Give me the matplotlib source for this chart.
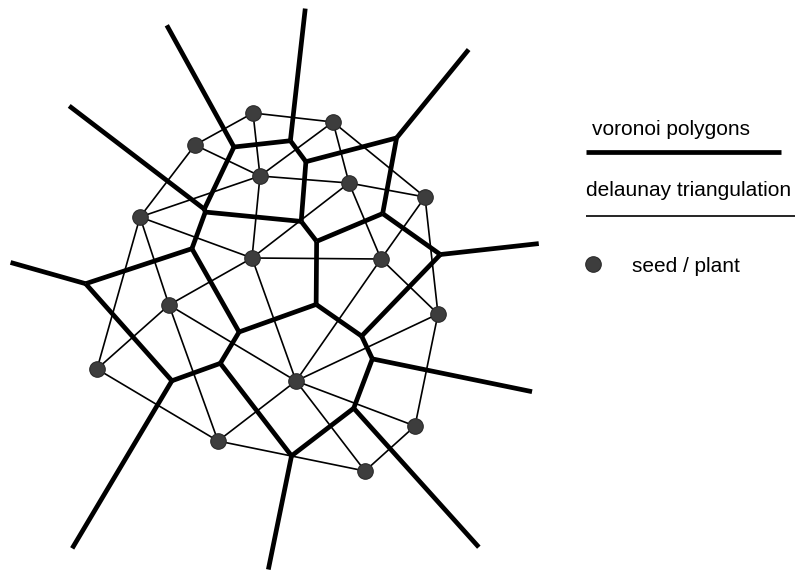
import numpy as np
import matplotlib.pyplot as plt
import matplotlib.tri as mtri


# -----------------------------
# Seeds (pixel coords, y down) and Delaunay triangles
# -----------------------------

seed_x = [253, 333, 195, 260, 349, 425, 140, 252, 381, 169, 438, 97, 296, 415, 218, 365]
seed_y = [113, 122, 145, 176, 183, 197, 217, 258, 259, 305, 314, 369, 381, 426, 441, 471]

triangles = [
    (0, 1, 3), (0, 2, 3), (1, 3, 4), (1, 4, 5), (2, 3, 6),
    (3, 6, 7), (3, 4, 7), (4, 7, 8), (4, 5, 8), (5, 8, 10),
    (6, 7, 9), (6, 9, 11), (7, 8, 12), (7, 9, 12), (8, 10, 12),
    (9, 11, 14), (9, 12, 14), (10, 12, 13), (12, 13, 15), (12, 14, 15),
]

# outer voronoi rays: hull edge -> drawn length of the ray
hull_pairs = [(0, 1), (1, 5), (5, 10), (10, 13), (13, 15),
              (15, 14), (14, 11), (11, 6), (6, 2), (2, 0)]
ray_len = [133, 114, 99, 163, 187, 116, 195, 78, 170, 139]

legend_labels = ["voronoi polygons", "delaunay triangulation", "seed / plant"]


# -----------------------------
# Geometry
# -----------------------------

x = np.array(seed_x, dtype=float)
y = np.array(seed_y, dtype=float)
tri = mtri.Triangulation(x, y, triangles)


def circumcenter(ia, ib, ic):
    ax_, ay_ = x[ia], y[ia]
    bx, by = x[ib] - ax_, y[ib] - ay_
    cx, cy = x[ic] - ax_, y[ic] - ay_
    d = 2 * (bx * cy - by * cx)
    ux = (cy * (bx**2 + by**2) - by * (cx**2 + cy**2)) / d
    uy = (bx * (cx**2 + cy**2) - cx * (bx**2 + by**2)) / d
    return np.array([ax_ + ux, ay_ + uy])


centers = np.array([circumcenter(*t) for t in tri.triangles])

vor_segments = []
ray_lookup = {frozenset(p): L for p, L in zip(hull_pairs, ray_len)}

for i, t in enumerate(tri.triangles):
    for j in range(3):
        a, b = t[j], t[(j + 1) % 3]
        c = t[(j + 2) % 3]
        nb = tri.neighbors[i, j]
        if nb > i:
            vor_segments.append((centers[i], centers[nb]))
        elif nb == -1:
            # open cell: ray along the bisector, pointing away from the hull
            n = np.array([-(y[b] - y[a]), x[b] - x[a]])
            n /= np.linalg.norm(n)
            mid = np.array([(x[a] + x[b]) / 2, (y[a] + y[b]) / 2])
            if np.dot(n, mid - np.array([x[c], y[c]])) < 0:
                n = -n
            L = ray_lookup[frozenset((a, b))]
            vor_segments.append((centers[i], centers[i] + n * L))


# -----------------------------
# Plot
# -----------------------------

plt.rcParams["font.family"] = ["Liberation Sans", "DejaVu Sans"]

fig = plt.figure(figsize=(7.95, 5.72), dpi=100)
ax = fig.add_axes([0, 0, 1, 1])
ax.set_xlim(0, 795)
ax.set_ylim(572, 0)
ax.axis("off")

thick = 3.4
thin = 1.2
seed_col = "#3d3d3d"

for e in tri.edges:
    ax.plot(x[e], y[e], color="black", lw=thin, zorder=2,
            solid_capstyle="butt")

for p, q in vor_segments:
    ax.plot([p[0], q[0]], [p[1], q[1]], color="black", lw=thick, zorder=3,
            solid_capstyle="butt", solid_joinstyle="miter")

ax.scatter(x, y, s=125, color=seed_col, edgecolors="#2a2a2a",
           linewidths=0.8, zorder=4)

# legend
ax.text(592, 135, legend_labels[0], fontsize=15, va="baseline", ha="left")
ax.plot([586, 781], [152, 152], color="black", lw=thick,
        solid_capstyle="butt")
ax.text(586, 196, legend_labels[1], fontsize=15, va="baseline", ha="left")
ax.plot([586, 795], [216, 216], color="black", lw=thin,
        solid_capstyle="butt")
ax.scatter([593], [264], s=125, color=seed_col, edgecolors="#2a2a2a",
           linewidths=0.8)
ax.text(632, 272, legend_labels[2], fontsize=15, va="baseline", ha="left")

fig.savefig("out.png", dpi=100)
